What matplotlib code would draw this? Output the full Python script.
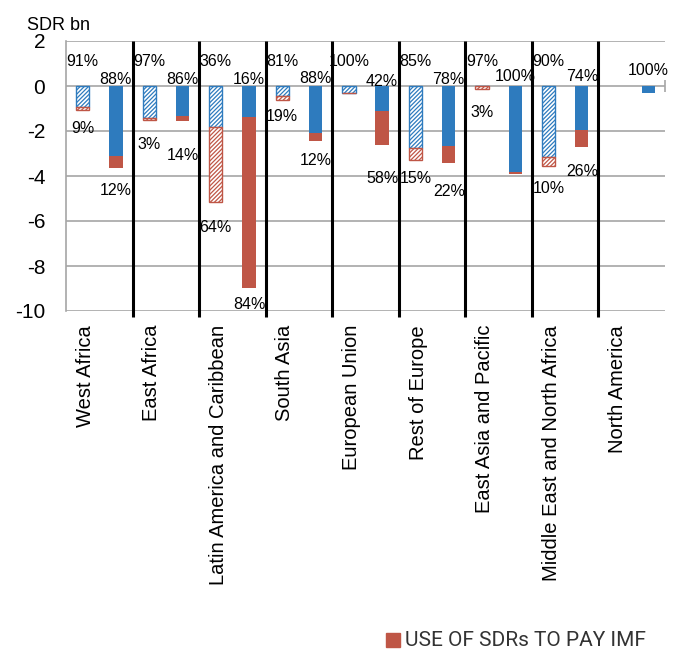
import matplotlib
matplotlib.use("Agg")
import matplotlib.pyplot as plt
from matplotlib.patches import Rectangle
import numpy as np

plt.rcParams['font.family'] = ['Liberation Sans', 'DejaVu Sans']
plt.rcParams['hatch.linewidth'] = 0.9

regions = ["West Africa", "East Africa", "Latin America and Caribbean", "South Asia",
           "European Union", "Rest of Europe", "East Asia and Pacific",
           "Middle East and North Africa", "North America"]

# left (hatched) bars: blue part and red part, SDR bn
hatch_blue = [-0.95, -1.40, -1.82, -0.45, -0.30, -2.74, 0.0, -3.16, np.nan]
hatch_red = [-0.12, -0.10, -3.32, -0.17, 0.0, -0.53, -0.13, -0.41, np.nan]
# right (solid) bars
solid_blue = [-3.10, -1.32, -1.39, -2.10, -1.11, -2.65, -3.82, -1.94, -0.30]
solid_red = [-0.53, -0.25, -7.59, -0.33, -1.53, -0.77, -0.11, -0.77, 0.0]

hatch_top_lbl = ["91%", "97%", "36%", "81%", "100%", "85%", "97%", "90%", ""]
hatch_bot_lbl = ["9%", "3%", "64%", "19%", "", "15%", "3%", "10%", ""]
solid_top_lbl = ["88%", "86%", "16%", "88%", "42%", "78%", "100%", "74%", "100%"]
solid_bot_lbl = ["12%", "14%", "84%", "12%", "58%", "22%", "", "26%", ""]

blue = "#2E7BBE"
red = "#BF5646"
grid_c = "#A6A6A6"

fig = plt.figure(figsize=(6.74, 6.51), dpi=100)
ax = fig.add_axes([66/674, 1-311/651, 599/674, 270/651])

x = np.arange(len(regions))
xh = x + 0.25
xs = x + 0.75
w = 0.2

hb = np.array(hatch_blue)
hr = np.array(hatch_red)
sb = np.array(solid_blue)
sr = np.array(solid_red)

ax.bar(xh, hb, w, color="white", edgecolor=blue, hatch="////////", lw=1.0, zorder=3)
ax.bar(xh, hr, w, bottom=hb, color="white", edgecolor=red, hatch="////////", lw=1.0, zorder=3)
ax.bar(xs, sb, w, color=blue, lw=0, zorder=3)
ax.bar(xs, sr, w, bottom=sb, color=red, lw=0, zorder=3)

# label offsets below bar ends (SDR bn)
hatch_off = [0.8, 1.08, 1.13, 0.74, 0, 0.82, 1.03, 1.0, 0]
solid_off = [1.0, 1.54, 0.75, 0.9, 1.45, 1.25, 0, 1.1, 0]
solid_top_y = [0.27, 0.27, 0.27, 0.33, 0.22, 0.27, 0.44, 0.44, 0.71]

fs = 11.5
for i in range(len(regions)):
    if hatch_top_lbl[i]:
        ax.text(xh[i], 1.07, hatch_top_lbl[i], ha="center", va="center", fontsize=fs, zorder=5)
    if hatch_bot_lbl[i]:
        end = hb[i] + hr[i]
        ax.text(xh[i], end - hatch_off[i], hatch_bot_lbl[i], ha="center", va="center", fontsize=fs, zorder=5)
    ax.text(xs[i], solid_top_y[i], solid_top_lbl[i], ha="center", va="center", fontsize=fs, zorder=5)
    if solid_bot_lbl[i]:
        end = sb[i] + sr[i]
        ax.text(xs[i], end - solid_off[i], solid_bot_lbl[i], ha="center", va="center", fontsize=fs, zorder=5)

ax.set_xlim(0, 9)
ax.set_ylim(-10, 2)
ax.set_yticks(range(-10, 3, 2))
ax.set_yticklabels([str(v) for v in range(-10, 3, 2)], fontsize=15)
ax.tick_params(axis="y", length=0, pad=15)
ax.set_xticks(x + 0.29)
ax.set_xticklabels(regions, rotation=90, fontsize=14.5, va="top", ha="center")
ax.tick_params(axis="x", length=0, pad=10)

for s in ["top", "right", "bottom"]:
    ax.spines[s].set_visible(False)
ax.spines["left"].set_color(grid_c)
ax.spines["left"].set_linewidth(1.2)
for v in range(-10, 3, 2):
    ax.axhline(v, color=grid_c, lw=1.2, zorder=1)

# region separators and end tick on the zero line
ax.vlines(np.arange(1, 9), -10.25, 2, color="black", lw=2.2, clip_on=False, zorder=4)
ax.vlines([9], -0.27, 0.27, color=grid_c, lw=1.2, clip_on=False)

fig.text(27/674, 1-25/651, "SDR bn", fontsize=13, va="center", ha="left")

fig.patches.append(Rectangle((386/674, 1-647/651), 14/674, 14/651, color=red,
                             transform=fig.transFigure, figure=fig))
fig.text(405/674, 1-640/651, "USE OF SDRs TO PAY IMF", fontsize=15,
         family="Roboto", color="#333333", va="center", ha="left")

fig.savefig("out.png", dpi=100)
